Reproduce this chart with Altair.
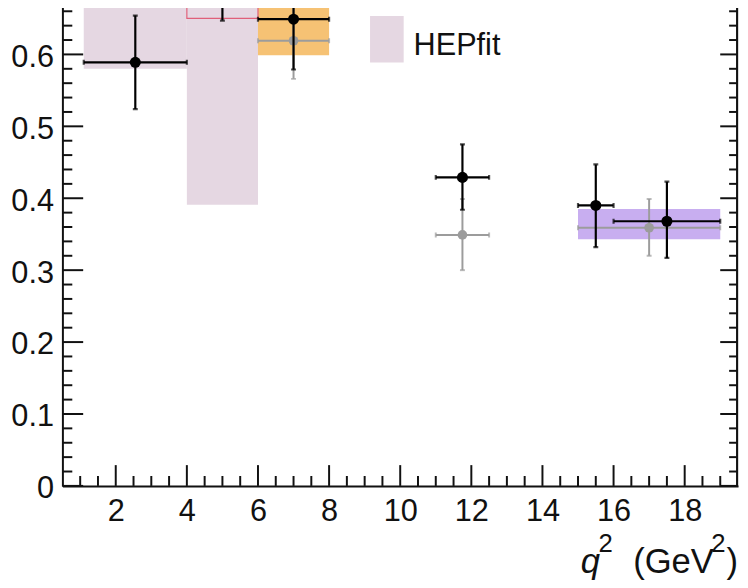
import altair as alt
import pandas as pd

# ---------------- data ----------------
# black measurements
pts_x = [2.55, 5.0, 7.0, 11.75, 15.5, 17.5]
pts_y = [0.589, 0.70, 0.649, 0.429, 0.390, 0.368]
pts_xlo = [1.1, 4.0, 6.0, 11.0, 15.0, 16.0]
pts_xhi = [4.0, 6.0, 8.0, 12.5, 16.0, 19.0]
pts_ylo = [0.524, 0.647, 0.579, 0.384, 0.332, 0.317]
pts_yhi = [0.654, 0.76, 0.72, 0.475, 0.447, 0.423]

# gray measurements
gray_x = [7.0, 11.75, 17.0]
gray_y = [0.619, 0.349, 0.359]
gray_xlo = [6.0, 11.0, 15.0]
gray_xhi = [8.0, 12.5, 19.0]
gray_ylo = [0.566, 0.300, 0.320]
gray_yhi = [0.672, 0.399, 0.399]

# HEPfit bands (pink)
hep_xlo = [1.1, 4.0]
hep_xhi = [4.0, 6.0]
hep_ylo = [0.580, 0.391]
hep_yhi = [0.80, 0.80]

# orange band
org_xlo = [6.0]
org_xhi = [8.0]
org_ylo = [0.599]
org_yhi = [0.80]

# purple band
pur_xlo = [15.0]
pur_xhi = [19.0]
pur_ylo = [0.343]
pur_yhi = [0.385]

# red outline box
red_xlo = [4.0]
red_xhi = [6.0]
red_ylo = [0.650]
red_yhi = [0.80]

# axis ticks
x_major = [2, 4, 6, 8, 10, 12, 14, 16, 18]
x_minor = [v / 2 for v in range(2, 39) if v % 4 != 0]
y_major = [0.0, 0.1, 0.2, 0.3, 0.4, 0.5, 0.6]
y_minor = [round(i * 0.02, 2) for i in range(1, 34) if i % 5 != 0]

W, H = 683, 490
TOP = -10          # the frame top lies above the visible picture
FONT = "Liberation Sans"
INK = "#111111"

xs = alt.Scale(domain=[0.5, 19.5], nice=False, zero=False)
ys = alt.Scale(domain=[0, 0.674], nice=False, zero=False)

xaxis = alt.Axis(values=x_major, ticks=False, grid=False, domain=True,
                 domainColor=INK, domainWidth=2, labelFont=FONT,
                 labelFontSize=31, labelColor=INK, labelPadding=11,
                 title="", labelFlush=False)
yaxis = alt.Axis(values=y_major, ticks=False, grid=False, domain=True,
                 domainColor=INK, domainWidth=2, labelFont=FONT,
                 labelFontSize=31, labelColor=INK, labelPadding=9,
                 labelExpr="datum.value == 0 ? '0' : format(datum.value, '.1f')",
                 title="", labelFlush=False, labelOffset=3)


def X(f):
    return alt.X(f, type="quantitative", scale=xs, axis=xaxis)


def Y(f):
    return alt.Y(f, type="quantitative", scale=ys, axis=yaxis)


def boxes(xlo, xhi, ylo, yhi, **kw):
    df = pd.DataFrame({"xlo": xlo, "xhi": xhi, "ylo": ylo, "yhi": yhi})
    return alt.Chart(df).mark_rect(clip=True, **kw).encode(
        x=X("xlo"), x2="xhi", y=Y("ylo"), y2="yhi")


def measurements(x, y, xlo, xhi, ylo, yhi, color, width, size, cap):
    df = pd.DataFrame({"x": x, "y": y, "xlo": xlo, "xhi": xhi,
                       "ylo": ylo, "yhi": yhi})
    base = alt.Chart(df)
    hbar = base.mark_rule(color=color, strokeWidth=width, clip=True).encode(
        x=X("xlo"), x2="xhi", y=Y("y"))
    vbar = base.mark_rule(color=color, strokeWidth=width, clip=True).encode(
        x=X("x"), y=Y("ylo"), y2="yhi")
    caps = []
    for f in ["xlo", "xhi"]:
        caps.append(base.mark_tick(color=color, orient="vertical", size=cap,
                                   thickness=width, clip=True).encode(
            x=X(f), y=Y("y")))
    for f in ["ylo", "yhi"]:
        caps.append(base.mark_tick(color=color, orient="horizontal", size=cap,
                                   thickness=width, clip=True).encode(
            x=X("x"), y=Y(f)))
    dots = base.mark_point(filled=True, shape="circle", color=color, size=size,
                           opacity=1, clip=True).encode(x=X("x"), y=Y("y"))
    return [hbar, vbar] + caps + [dots]


pink = boxes(hep_xlo, hep_xhi, hep_ylo, hep_yhi, color="#e5d7e2")
orange = boxes(org_xlo, org_xhi, org_ylo, org_yhi, color="#f6c274")
purple = boxes(pur_xlo, pur_xhi, pur_ylo, pur_yhi, color="#c8aef0")
red = boxes(red_xlo, red_xhi, red_ylo, red_yhi, fillOpacity=0,
            stroke="#e0607a", strokeWidth=1.2)

gray_layers = measurements(gray_x, gray_y, gray_xlo, gray_xhi, gray_ylo,
                           gray_yhi, "#9c9c9c", 2, 95, 5)
black_layers = measurements(pts_x, pts_y, pts_xlo, pts_xhi, pts_ylo, pts_yhi,
                            "#000000", 2.2, 125, 5)

# tick marks (pointing inward)
ym = pd.DataFrame({"v": y_major})
yn = pd.DataFrame({"v": y_minor})
xm = pd.DataFrame({"v": x_major})
xn = pd.DataFrame({"v": x_minor})
tk = dict(color=INK, strokeWidth=2)
ticks = [
    alt.Chart(ym).mark_rule(**tk).encode(y=Y("v"), x=alt.value(0), x2=alt.value(21)),
    alt.Chart(yn).mark_rule(**tk).encode(y=Y("v"), x=alt.value(0), x2=alt.value(10)),
    alt.Chart(ym).mark_rule(**tk).encode(y=Y("v"), x=alt.value(W - 18), x2=alt.value(W)),
    alt.Chart(yn).mark_rule(**tk).encode(y=Y("v"), x=alt.value(W - 9), x2=alt.value(W)),
    alt.Chart(xm).mark_rule(**tk).encode(x=X("v"), y=alt.value(H - 21), y2=alt.value(H)),
    alt.Chart(xn).mark_rule(**tk).encode(x=X("v"), y=alt.value(H - 10), y2=alt.value(H)),
]

one = pd.DataFrame({"a": [0]})
right_line = alt.Chart(one).mark_rule(color=INK, strokeWidth=2).encode(
    x=alt.value(W - 1), y=alt.value(0), y2=alt.value(H))

# legend (positions in plot pixels)
oy = -TOP
leg_box = alt.Chart(one).mark_rect(color="#e5d7e2").encode(
    x=alt.value(311), x2=alt.value(345), y=alt.value(5 + oy), y2=alt.value(52 + oy))
leg_txt = alt.Chart(one).mark_text(text="HEPfit", font=FONT, fontSize=31,
                                   align="left", baseline="alphabetic",
                                   color=INK).encode(
    x=alt.value(355), y=alt.value(44 + oy))


# axis title q^2 (GeV^2)
def piece(txt, x, y, size, align="left", style="normal"):
    return alt.Chart(one).mark_text(text=txt, font=FONT, fontSize=size,
                                    fontStyle=style, align=align,
                                    baseline="alphabetic", color=INK).encode(
        x=alt.value(x), y=alt.value(y + oy))


title_layers = [
    piece("q", 524, 568, 35, style="italic"),
    piece("2", 542, 547, 26),
    piece("(GeV", 577, 568, 35),
    piece("2", 656, 547, 26),
    piece(")", 683, 568, 35, align="right"),
]

chart = alt.layer(
    pink, orange, purple, red, *gray_layers, *black_layers, *ticks, right_line,
    leg_box, leg_txt, *title_layers
).properties(
    width=W, height=H,
    autosize=alt.AutoSizeParams(type="none"),
    padding={"left": 55, "top": TOP, "right": 2, "bottom": 92},
).configure_view(
    strokeWidth=0, strokeOpacity=0
).configure_axisTop(
    domainOpacity=0, labelOpacity=0, tickOpacity=0
).configure_axisRight(
    domainOpacity=0, labelOpacity=0, tickOpacity=0
).configure(background="white")

chart.save("out.html", embed_options={"renderer": "svg", "actions": False})
